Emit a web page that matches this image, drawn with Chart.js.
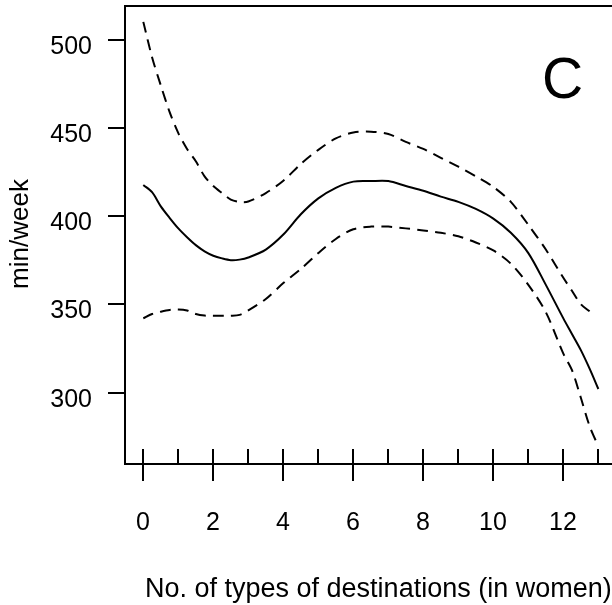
<!DOCTYPE html>
<html>
<head>
<meta charset="utf-8">
<script src="https://cdn.jsdelivr.net/npm/chart.js@4"></script>
<style>
    body { margin: 0; background: #fff; overflow: hidden; }
    canvas { display: block; }
</style>
</head>
<body>
<canvas id="chart" width="612" height="605"></canvas>
<script>
const xValues = [0, 0.25, 0.5, 0.75, 1, 1.25, 1.5, 1.75, 2, 2.25, 2.5, 2.75, 3, 3.5, 4, 4.5, 5, 5.5, 6, 6.5, 7, 7.5, 8, 8.5, 9, 9.5, 10, 10.5, 11, 11.5, 12, 12.25, 12.5, 12.75, 13];

const estimate = [417.6, 413.5, 405.5, 399, 393, 388, 383.5, 380, 377.5, 376, 375, 375.3, 376.5, 381, 389.5, 401, 410, 416, 419.5, 419.8, 419.8, 417, 414.3, 411, 408, 404, 398.5, 390.5, 379, 361, 342, 333, 324, 313.5, 302];

const upperBand = [510, 490, 474, 459, 447, 438, 431, 422.5, 417, 413, 409.3, 408, 408.2, 413, 420, 429.5, 437.5, 444, 447.3, 447.8, 446.5, 442, 438, 433, 428, 422.5, 416.5, 408, 395, 381, 365, 357.5, 350, 346, null];

const lowerBand = [342, 344.5, 345.8, 346.8, 347.1, 346.5, 344.5, 343.6, 343.5, 343.5, 343.5, 344, 346.5, 353, 362, 370, 379, 387, 392.5, 394, 394, 393, 391.8, 390.5, 388.5, 385, 380.5, 373, 361, 345.5, 322, 312.5, 297, 281, 269.5];

const yTicks = [300, 350, 400, 450, 500];
const xMajorTicks = [0, 2, 4, 6, 8, 10, 12];
const xMinorTicks = [1, 3, 5, 7, 9, 11, 13];

const panelLetter = 'C';
const xTitle = 'No. of types of destinations (in women)';
const yTitle = 'min/week';

const FONT = '"Liberation Sans", Arial, sans-serif';

function toPoints(values) {
    return xValues.map((x, i) => ({ x, y: values[i] }));
}

// axes, box and texts drawn R-style on top of the hidden chart.js scales
const axesPlugin = {
    id: 'axesPlugin',
    afterDraw(chart) {
        const ctx = chart.ctx;
        const { left, right, top, bottom } = chart.chartArea;
        const xs = chart.scales.x;
        const ys = chart.scales.y;

        ctx.save();
        ctx.strokeStyle = '#000';
        ctx.fillStyle = '#000';
        ctx.lineWidth = 2;
        ctx.lineCap = 'butt';

        // box: left, top and bottom (right side falls off the picture)
        ctx.beginPath();
        ctx.moveTo(right + 2, top);
        ctx.lineTo(left, top);
        ctx.lineTo(left, bottom);
        ctx.lineTo(right + 2, bottom);
        ctx.stroke();

        // y ticks and labels
        ctx.font = `25px ${FONT}`;
        ctx.textAlign = 'right';
        ctx.textBaseline = 'alphabetic';
        yTicks.forEach(v => {
            const y = Math.round(ys.getPixelForValue(v));
            ctx.beginPath();
            ctx.moveTo(left - 17, y);
            ctx.lineTo(left, y);
            ctx.stroke();
            ctx.fillText(String(v), left - 33, y + 14);
        });

        // x ticks: even ones cross the axis, odd ones only inside
        ctx.textAlign = 'center';
        xMajorTicks.forEach(v => {
            const x = Math.round(xs.getPixelForValue(v));
            ctx.beginPath();
            ctx.moveTo(x, bottom - 15);
            ctx.lineTo(x, bottom + 17);
            ctx.stroke();
            ctx.fillText(String(v), x, 530);
        });
        xMinorTicks.forEach(v => {
            const x = Math.round(xs.getPixelForValue(v));
            ctx.beginPath();
            ctx.moveTo(x, bottom - 15);
            ctx.lineTo(x, bottom);
            ctx.stroke();
        });

        // axis titles
        ctx.font = `27px ${FONT}`;
        ctx.textAlign = 'left';
        ctx.fillText(xTitle, 145, 597);

        ctx.save();
        ctx.translate(28, 234);
        ctx.rotate(-Math.PI / 2);
        ctx.textAlign = 'center';
        ctx.font = `26px ${FONT}`;
        ctx.fillText(yTitle, 0, 0);
        ctx.restore();

        // panel letter
        ctx.font = `57px ${FONT}`;
        ctx.textAlign = 'left';
        ctx.fillText(panelLetter, 542, 98);

        ctx.restore();
    }
};

new Chart(document.getElementById('chart'), {
    type: 'line',
    data: {
        datasets: [
            {
                label: 'upper',
                data: toPoints(upperBand),
                borderColor: '#000',
                borderWidth: 2,
                borderDash: [11, 7],
                pointRadius: 0,
                tension: 0.3,
                spanGaps: false
            },
            {
                label: 'estimate',
                data: toPoints(estimate),
                borderColor: '#000',
                borderWidth: 2,
                pointRadius: 0,
                tension: 0.3
            },
            {
                label: 'lower',
                data: toPoints(lowerBand),
                borderColor: '#000',
                borderWidth: 2,
                borderDash: [11, 7],
                pointRadius: 0,
                tension: 0.3
            }
        ]
    },
    options: {
        responsive: false,
        animation: false,
        devicePixelRatio: 1,
        layout: { padding: { left: 125, top: 6, right: 0, bottom: 141 } },
        plugins: {
            legend: { display: false },
            tooltip: { enabled: false }
        },
        scales: {
            x: { type: 'linear', min: -0.523, max: 13.39, display: false },
            y: { type: 'linear', min: 259.5, max: 519, display: false }
        }
    },
    plugins: [axesPlugin]
});
</script>
</body>
</html>
